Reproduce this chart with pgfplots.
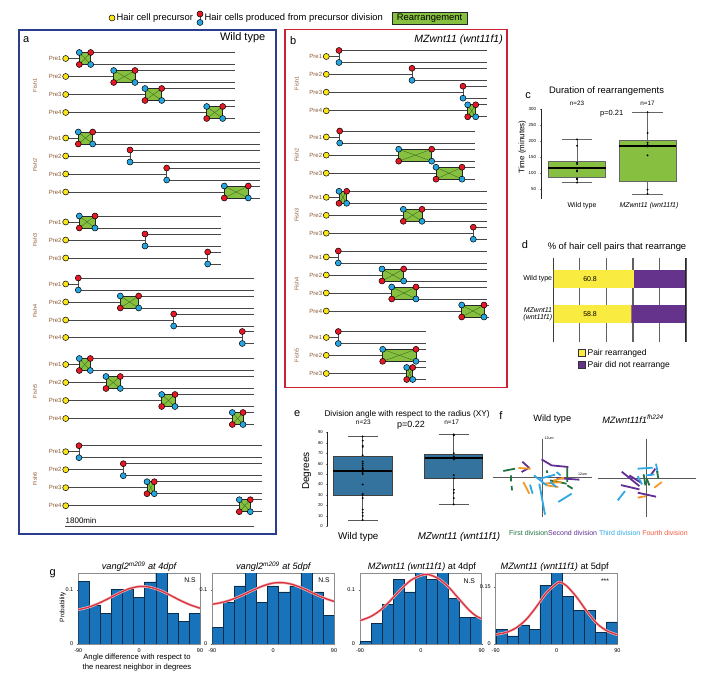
\documentclass[border=0pt]{standalone}
\usepackage{pgfplots}
\pgfplotsset{compat=1.18}
\usepackage{fontspec}
\setmainfont{Liberation Sans}

\definecolor{cA}{rgb}{0.17,0.24,0.56}
\definecolor{cRb}{rgb}{0.80,0.13,0.20}
\definecolor{cR}{rgb}{0.90,0.10,0.15}
\definecolor{cB}{rgb}{0.15,0.65,0.88}
\definecolor{cY}{rgb}{0.98,0.90,0.10}
\definecolor{cG}{rgb}{0.53,0.75,0.25}
\definecolor{cGd}{rgb}{0.20,0.40,0.10}
\definecolor{preC}{rgb}{0.55,0.35,0.20}
\definecolor{cE}{rgb}{0.20,0.45,0.62}
\definecolor{bYel}{rgb}{0.98,0.92,0.25}
\definecolor{bPur}{rgb}{0.40,0.20,0.55}
\definecolor{hB}{rgb}{0.10,0.45,0.73}
\definecolor{hR}{rgb}{0.85,0.20,0.25}
\definecolor{fGr}{rgb}{0.12,0.45,0.25}
\definecolor{fPu}{rgb}{0.38,0.18,0.58}
\definecolor{fBl}{rgb}{0.18,0.66,0.90}
\definecolor{fOr}{rgb}{0.96,0.60,0.15}
\definecolor{fRe}{rgb}{0.96,0.35,0.25}

\newcommand{\fs}[1]{\fontsize{#1}{#1}\selectfont}

\pgfplotsset{
  /pgf/number format/assume math mode=true,
  lin/.style={no marks, line width=0.75pt, color=black!72},
  cell/.style={only marks, mark=*, mark size=3pt, mark options={fill=#1, draw=black, line width=0.5pt}},
  rbox/.style={no marks, fill=cG, draw=black!85, line width=0.8pt},
  xl/.style={no marks, draw=cGd, line width=0.35pt},
  seg/.style={no marks, line width=1.8pt},
  bxax/.style={scale only axis, axis lines=left, x axis line style={draw=none},
    y axis line style={black!85, line width=0.8pt}, axis line style={-},
    xtick=\empty, major tick length=1.5pt,
    tick align=outside, unbounded coords=jump, clip=false},
  hist/.style={scale only axis, width=121.7pt, height=70.7pt, xmin=-90, xmax=90,
    ymin=0, ymax=0.13, axis line style={black!45, line width=0.5pt},
    xtick={-90,0,90}, ytick={0,0.1}, tick pos=left, tick align=outside,
    major tick length=1.5pt, tick style={black!60}, tick label style={font=\fs{5.5}},
    yticklabel style={/pgf/number format/fixed}},
  hbar/.style={ybar interval, fill=hB, draw=black!60!hB, line width=0.4pt},
  halo/.style={no marks, smooth, line width=2.6pt, color=hR!35},
  curve/.style={no marks, smooth, line width=1.3pt, color=hR},
}
\tikzset{
  prel/.style={anchor=east, inner sep=0pt, xshift=-4pt, text=preC, font=\fs{6}},
  fishl/.style={rotate=90, inner sep=0pt, text=preC, font=\fs{5.5}},
}

% division: label, y, x precursor, x division, x end
\newcommand{\dv}[5]{%
  \pgfmathsetmacro\ya{#2-6}\pgfmathsetmacro\yb{#2+6}%
  \addplot[lin] coordinates {(#3,#2) (#4,#2)};
  \addplot[lin] coordinates {(#4,\ya) (#4,\yb)};
  \addplot[lin] coordinates {(#4,\ya) (#5,\ya)};
  \addplot[lin] coordinates {(#4,\yb) (#5,\yb)};
  \addplot[cell=cR] coordinates {(#4,\ya)};
  \addplot[cell=cB] coordinates {(#4,\yb)};
  \addplot[cell=cY] coordinates {(#3,#2)};
  \node[prel] at (axis cs:#3,#2) {Pre#1};
}
% rearrangement: label, y, x precursor, box left, box right, x end
\newcommand{\rr}[6]{%
  \pgfmathsetmacro\ya{#2-6}\pgfmathsetmacro\yb{#2+6}%
  \addplot[lin] coordinates {(#3,#2) (#4,#2)};
  \addplot[lin] coordinates {(#5,\ya) (#6,\ya)};
  \addplot[lin] coordinates {(#5,\yb) (#6,\yb)};
  \addplot[rbox] coordinates {(#4,\ya) (#5,\ya) (#5,\yb) (#4,\yb)} --cycle;
  \addplot[xl] coordinates {(#4,\ya) (#5,\yb)};
  \addplot[xl] coordinates {(#4,\yb) (#5,\ya)};
  \addplot[cell=cB] coordinates {(#4,\ya) (#5,\yb)};
  \addplot[cell=cR] coordinates {(#5,\ya) (#4,\yb)};
  \addplot[cell=cY] coordinates {(#3,#2)};
  \node[prel] at (axis cs:#3,#2) {Pre#1};
}

\begin{document}
\begin{tikzpicture}
\useasboundingbox (0,0) rectangle (709pt,684pt);

% ---------- canvas: panels a, b and free text ----------
\begin{axis}[at={(0pt,0pt)}, anchor=south west, scale only axis,
  width=709pt, height=684pt, xmin=0, xmax=709, ymin=0, ymax=684,
  y dir=reverse, hide axis, clip=false]

% top legend
\addplot[cell=cY] coordinates {(112,18)};
\addplot[lin] coordinates {(200,14) (200,22.5)};
\addplot[cell=cR] coordinates {(200,14)};
\addplot[cell=cB] coordinates {(200,22.5)};
\addplot[rbox] coordinates {(392,12.5) (467,12.5) (467,24) (392,24)} --cycle;
\node[anchor=west, inner sep=0pt, font=\fs{9.4}] at (axis cs:116.5,18.5) {Hair cell precursor};
\node[anchor=west, inner sep=0pt, font=\fs{9.4}] at (axis cs:204.5,18.5) {Hair cells produced from precursor division};
\node[inner sep=0pt, font=\fs{9.4}] at (axis cs:429.5,18.5) {Rearrangement};

% frames
\addplot[no marks, draw=cA, line width=1.5pt] coordinates {(19,30) (276,30) (276,534) (19,534)} --cycle;
\addplot[no marks, draw=cRb, line width=1.5pt] coordinates {(285,29.5) (507,29.5) (507,387.5) (285,387.5)} --cycle;
\node[anchor=west, inner sep=0pt, font=\fs{11}] at (axis cs:23,39.5) {a};
\node[anchor=east, inner sep=0pt, font=\fs{11}] at (axis cs:265.5,38) {Wild type};
\node[anchor=west, inner sep=0pt, font=\fs{11}] at (axis cs:290,40.5) {b};
\node[anchor=east, inner sep=0pt, font=\fs{10.5}\itshape] at (axis cs:503,40) {MZwnt11 (wnt11f1)};

% panel a, wild type
\rr{1}{58.5}{65.7}{79.3}{90.7}{235}
\rr{2}{76.5}{65.7}{113.7}{135}{235}
\rr{3}{94.5}{65.7}{145}{161.7}{235}
\rr{4}{112.5}{65.7}{206.7}{222.7}{235}
\rr{1}{138}{65.7}{78.3}{92.7}{260}
\dv{2}{156}{65.7}{130}{260}
\dv{3}{174}{65.7}{166.7}{260}
\rr{4}{192}{65.7}{224.3}{248.3}{260}
\rr{1}{222}{65.7}{79.3}{95}{221}
\dv{2}{240}{65.7}{145}{221}
\dv{3}{258}{65.7}{207.7}{221}
\dv{1}{284}{65.7}{78.3}{254}
\rr{2}{302}{65.7}{120.3}{138.7}{254}
\dv{3}{320}{65.7}{173.7}{254}
\dv{4}{337.5}{65.7}{242.3}{254}
\rr{1}{364.5}{65.7}{79.3}{90.3}{254}
\rr{2}{382.5}{65.7}{106}{120.3}{254}
\rr{3}{400.5}{65.7}{161.7}{175}{254}
\rr{4}{418.5}{65.7}{232.3}{243}{254}
\dv{1}{451.7}{65.7}{79}{261.7}
\dv{2}{469.7}{65.7}{123.3}{261.7}
\rr{3}{487.7}{65.7}{147}{154.3}{261.7}
\rr{4}{505.7}{65.7}{239.3}{250.3}{261.7}
\node[fishl] at (axis cs:35,85.5) {Fish1};
\node[fishl] at (axis cs:35,165) {Fish2};
\node[fishl] at (axis cs:35,240) {Fish3};
\node[fishl] at (axis cs:35,311) {Fish4};
\node[fishl] at (axis cs:35,391.5) {Fish5};
\node[fishl] at (axis cs:35,478.7) {Fish6};
\addplot[lin, line width=0.9pt] coordinates {(65,526) (254.3,526)};
\node[anchor=south west, inner sep=0pt, font=\fs{8}] at (axis cs:65.5,524) {1800min};

% panel b, MZwnt11
\dv{1}{56.5}{326.3}{339}{487}
\dv{2}{74.3}{326.3}{412}{487}
\dv{3}{92.2}{326.3}{463}{487}
\rr{4}{110.8}{326.3}{467.7}{475.7}{487}
\dv{1}{137}{326.3}{339.7}{475}
\rr{2}{155.2}{326.3}{398.7}{431.7}{475}
\rr{3}{173.2}{326.3}{436}{462}{475}
\rr{1}{197.3}{326.3}{339}{346.7}{487}
\rr{2}{215.3}{326.3}{403.3}{422}{487}
\dv{3}{233.2}{326.3}{473.3}{487}
\dv{1}{257}{326.3}{338.3}{487}
\rr{2}{275}{326.3}{382}{403.7}{487}
\rr{3}{293}{326.3}{391.7}{416}{487}
\rr{4}{311}{326.3}{461.7}{484}{489}
\dv{1}{337.5}{326.3}{338.3}{426}
\rr{2}{355.3}{326.3}{382.7}{416}{426}
\rr{3}{373.5}{326.3}{406.7}{412.7}{426}
\node[fishl] at (axis cs:296.7,83.5) {Fish1};
\node[fishl] at (axis cs:296.7,155) {Fish2};
\node[fishl] at (axis cs:296.7,215) {Fish3};
\node[fishl] at (axis cs:296.7,284) {Fish4};
\node[fishl] at (axis cs:296.7,355.5) {Fish5};

% panel c text
\node[inner sep=0pt, font=\fs{11}] at (axis cs:528,96) {c};
\node[inner sep=0pt, font=\fs{9.4}] at (axis cs:606.5,90.7) {Duration of rearrangements};
\node[inner sep=0pt, font=\fs{6.3}] at (axis cs:577,103.3) {n=23};
\node[inner sep=0pt, font=\fs{6.3}] at (axis cs:647.5,103.3) {n=17};
\node[inner sep=0pt, font=\fs{7.5}] at (axis cs:611.7,114) {p=0.21};
\node[inner sep=0pt, font=\fs{8}, rotate=90] at (axis cs:522.3,147) {Time (minutes)};
\node[inner sep=0pt, font=\fs{7}] at (axis cs:582,205.5) {Wild type};
\node[inner sep=0pt, font=\fs{7}\itshape] at (axis cs:649,205.5) {MZwnt11 (wnt11f1)};

% panel d text
\node[inner sep=0pt, font=\fs{11}] at (axis cs:525,245) {d};
\node[inner sep=0pt, font=\fs{9.4}] at (axis cs:617,246.7) {\% of hair cell pairs that rearrange};

% panel e text
\node[inner sep=0pt, font=\fs{11}] at (axis cs:297.3,414) {e};
\node[anchor=west, inner sep=0pt, font=\fs{8.3}] at (axis cs:324.3,414.3) {Division angle with respect to the radius (XY)};
\node[inner sep=0pt, font=\fs{6.5}] at (axis cs:363.3,422.7) {n=23};
\node[inner sep=0pt, font=\fs{6.5}] at (axis cs:451.7,422.7) {n=17};
\node[inner sep=0pt, font=\fs{9}] at (axis cs:411,425.5) {p=0.22};
\node[inner sep=0pt, font=\fs{10}, rotate=90] at (axis cs:306.7,471) {Degrees};
\node[inner sep=0pt, font=\fs{9.8}] at (axis cs:358.3,536.7) {Wild type};
\node[inner sep=0pt, font=\fs{9.8}\itshape] at (axis cs:459,536.7) {MZwnt11 (wnt11f1)};

% panel f text
\node[inner sep=0pt, font=\fs{11}] at (axis cs:501,416) {f};
\node[inner sep=0pt, font=\fs{9.2}] at (axis cs:552.3,419) {Wild type};
\node[inner sep=0pt, font=\fs{9.2}\itshape] at (axis cs:633,419) {MZwnt11f1\textsuperscript{fh224}};
\node[anchor=west, inner sep=0pt, font=\fs{3.6}] at (axis cs:544.5,438.5) {12um};
\node[anchor=west, inner sep=0pt, font=\fs{3.6}] at (axis cs:578,474.5) {12um};
\node[anchor=west, inner sep=0pt, font=\fs{7}] at (axis cs:509,532.7)
  {\textcolor{fGr}{First division}\textcolor{fPu}{Second division} \textcolor{fBl}{Third division} \textcolor{fRe}{Fourth division}};

% panel g text
\node[inner sep=0pt, font=\fs{11}] at (axis cs:52.7,573.3) {g};
\node[inner sep=0pt, font=\fs{9.2}\itshape] at (axis cs:139,566.7) {vangl2\textsuperscript{m209} at 4dpf};
\node[inner sep=0pt, font=\fs{9.2}\itshape] at (axis cs:273.3,566.7) {vangl2\textsuperscript{m209} at 5dpf};
\node[inner sep=0pt, font=\fs{9.2}] at (axis cs:422,566.7) {\textit{MZwnt11 (wnt11f1)} at 4dpf};
\node[inner sep=0pt, font=\fs{9.2}] at (axis cs:554.7,566.7) {\textit{MZwnt11 (wnt11f1)} at 5dpf};
\node[inner sep=0pt, font=\fs{6.8}] at (axis cs:190,580) {N.S};
\node[inner sep=0pt, font=\fs{6.8}] at (axis cs:324,580) {N.S};
\node[inner sep=0pt, font=\fs{6.8}] at (axis cs:469.3,580.7) {N.S};
\node[inner sep=0pt, font=\fs{6.8}] at (axis cs:605,580.7) {***};
\node[inner sep=0pt, font=\fs{6.5}, rotate=90] at (axis cs:62.7,607) {Probability};
\node[inner sep=0pt, font=\fs{7.7}] at (axis cs:137,658) {Angle difference with respect to};
\node[inner sep=0pt, font=\fs{7.7}] at (axis cs:137,667.5) {the nearest neighbor in degrees};
\end{axis}

% ---------- c: duration of rearrangements ----------
\begin{axis}[bxax, at={(541pt,485.4pt)}, anchor=south west,
  width=141.8pt, height=89.6pt, xmin=0.489, xmax=2.5, ymin=20, ymax=300,
  ytick={50,100,...,300}, tick label style={font=\fs{4.4}}]
% whiskers and caps, then boxes, then medians
\addplot[no marks, black!60, line width=0.9pt] coordinates {
  (1,135) (1,205) (nan,nan) (1,85) (1,70) (nan,nan) (0.785,205) (1.215,205) (nan,nan) (0.785,70) (1.215,70) (nan,nan)
  (2,203) (2,290) (nan,nan) (2,75) (2,33) (nan,nan) (1.785,290) (2.215,290) (nan,nan) (1.785,33) (2.215,33)};
\addplot[no marks, fill=cG, draw=black!60, line width=0.9pt] coordinates {(0.595,85) (1.405,85) (1.405,135) (0.595,135)} --cycle;
\addplot[no marks, fill=cG, draw=black!60, line width=0.9pt] coordinates {(1.595,75) (2.405,75) (2.405,203) (1.595,203)} --cycle;
\addplot[no marks, black, line width=1.8pt] coordinates {(0.595,115) (1.405,115) (nan,nan) (1.595,185) (2.405,185)};
\addplot[only marks, mark=*, mark size=0.7pt, black] coordinates {
  (1,70) (1,80) (1,83) (1,105) (1,108) (1,115) (1,128) (1,132) (1,185) (1,205)
  (2,35) (2,48) (2,155) (2,183) (2,190) (2,195) (2,225) (2,290)};
\end{axis}

% ---------- d: share of pairs that rearrange ----------
\begin{axis}[at={(553.3pt,342.3pt)}, anchor=south west, scale only axis,
  width=132.7pt, height=83.4pt, xmin=0, xmax=100, ymin=-0.589, ymax=1.794,
  y dir=reverse, axis line style={draw=none}, xtick={0,20,...,100}, xticklabels={},
  xmajorgrids, grid style={black!62, line width=1.2pt}, major tick length=0pt,
  ytick={0,1}, yticklabels={Wild type, {\textit{MZwnt11}\\\textit{(wnt11f1)}}},
  yticklabel style={align=right, font=\fs{7}, inner sep=1pt},
  legend image code/.code={\draw[#1, draw=black!80, line width=0.4pt] (0pt,-3.4pt) rectangle (7pt,3.4pt);},
  legend style={at={(0.186,-0.06)}, anchor=north west, draw=none, fill=none,
    font=\fs{8.5}, row sep=0.3pt, inner sep=0pt},
  legend cell align=left]
\addlegendimage{fill=bYel}\addlegendentry{Pair rearranged}
\addlegendimage{fill=bPur}\addlegendentry{Pair did not rearrange}
\addplot[forget plot, xbar, bar width=17.7pt, bar shift=0pt, fill=bPur, draw=none]
  coordinates {(100,0) (100,1)};
\addplot[forget plot, xbar, bar width=17.7pt, bar shift=0pt, fill=bYel, draw=none]
  coordinates {(60.8,0) (58.8,1)};
\addplot[forget plot, no marks, black!85, line width=1.6pt] coordinates {(0,-0.589) (0,1.794)};
\addplot[forget plot, no marks, black!85, line width=1.6pt] coordinates {(100,-0.589) (100,1.794)};
\node[inner sep=0pt, font=\fs{7}] at (axis cs:27.7,0) {60.8};
\node[inner sep=0pt, font=\fs{7}] at (axis cs:27.7,1) {58.8};
\end{axis}

% ---------- e: division angle ----------
\begin{axis}[bxax, at={(327.7pt,157.7pt)}, anchor=south west,
  width=167.1pt, height=94pt, xmin=0.616, xmax=2.45, ymin=0, ymax=90,
  ytick={0,10,...,90}, tick label style={font=\fs{4.2}}]
\addplot[no marks, black!65, line width=0.9pt] coordinates {
  (1,67) (1,86) (nan,nan) (1,30) (1,6) (nan,nan) (0.835,86) (1.165,86) (nan,nan) (0.835,6) (1.165,6) (nan,nan)
  (2,69) (2,88) (nan,nan) (2,46) (2,21) (nan,nan) (1.835,88) (2.165,88) (nan,nan) (1.835,21) (2.165,21)};
\addplot[no marks, fill=cE, draw=black!75, line width=0.9pt] coordinates {(0.678,30) (1.322,30) (1.322,67) (0.678,67)} --cycle;
\addplot[no marks, fill=cE, draw=black!75, line width=0.9pt] coordinates {(1.683,46) (2.317,46) (2.317,69) (1.683,69)} --cycle;
\addplot[no marks, black, line width=2pt] coordinates {(0.678,53) (1.322,53) (nan,nan) (1.683,65) (2.317,65)};
\addplot[only marks, mark=*, mark size=0.7pt, black] coordinates {
  (1,6) (1,10) (1,13) (1,16) (1,27) (1,30) (1,31) (1,40) (1,50) (1,51) (1,53)
  (1,54) (1,55) (1,56) (1,58) (1,60) (1,62) (1,68) (1,76) (1,77) (1,82) (1,86)
  (2,21) (2,27) (2,32) (2,35) (2,46) (2,49) (2,64) (2,66) (2,67) (2,70) (2,87) (2,88)};
\end{axis}

% ---------- f: division orientations ----------
\begin{axis}[at={(492.7pt,167pt)}, anchor=south west, scale only axis,
  width=99pt, height=78.3pt, xmin=-49.6, xmax=49.4, ymin=-39.3, ymax=39,
  axis lines=middle, axis line style={-, black!65, line width=1pt},
  xtick=\empty, ytick=\empty, unbounded coords=jump, clip=false]
\addplot[seg, fGr] coordinates {(-39,6.7) (-27.3,9) (nan,nan) (-31.3,2.3) (-31.3,-3.7)
  (nan,nan) (-30.7,-8.3) (-30.3,-12.7) (nan,nan) (4.3,7.3) (5,4.7) (nan,nan)
  (25,10.7) (25,-4.3) (nan,nan) (7.7,-2.7) (24.3,-6) (nan,nan) (25,-7.7) (30.3,-11)};
\addplot[seg, fPu] coordinates {(-20,16) (-13,9.7) (nan,nan) (-20.7,5.7) (-13,10)
  (nan,nan) (-0.7,18.3) (9.3,12.3) (nan,nan) (9.3,12.3) (26,10.7)
  (nan,nan) (14.3,-0.3) (37,-2)};
\addplot[seg, fOr] coordinates {(-24,9.7) (-11.7,9) (nan,nan) (-19,-4.3) (-13,-16)
  (nan,nan) (1,-6) (19.3,-4.3) (nan,nan) (4.3,-7.7) (16,-9.3) (nan,nan) (11,-3) (21.7,0)};
\addplot[seg, fBl] coordinates {(-3,-6) (2.7,-37) (nan,nan) (-12.3,-7) (-9.7,-16)
  (nan,nan) (-8.3,2.3) (4.3,-7.7) (nan,nan) (16,-24.3) (29.3,-16) (nan,nan)
  (-2.3,-1) (12.7,3) (nan,nan) (14.3,5.7) (18.3,2.3) (nan,nan) (7.7,-4.3) (14.3,-9.3)};
\end{axis}
\begin{axis}[at={(597.7pt,167pt)}, anchor=south west, scale only axis,
  width=98.3pt, height=77.6pt, xmin=-49, xmax=49.3, ymin=-38.6, ymax=39,
  axis lines=middle, axis line style={-, black!65, line width=1pt},
  xtick=\empty, ytick=\empty, unbounded coords=jump, clip=false]
\addplot[seg, fPu] coordinates {(-25,6.7) (-7.3,-7.7) (nan,nan) (-17.3,3) (-5.7,-4.3)
  (nan,nan) (-25.7,-6.7) (-7.3,-11) (nan,nan) (-9,-14.3) (9.3,-18.3) (nan,nan) (3.7,3) (8.7,9.7)};
\addplot[seg, fBl] coordinates {(-29,-22) (-21.7,-12.7) (nan,nan) (-9,9.7) (6,10.7)
  (nan,nan) (9.3,14.7) (11,5.7) (nan,nan) (-9,2.3) (-4.7,-6) (nan,nan) (-0.7,3) (7.7,4)};
\addplot[seg, fGr] coordinates {(-3,4) (-1.3,-7) (nan,nan) (0,-0.3) (2.7,-7)
  (nan,nan) (10.3,7.3) (11.7,-0.3)};
\addplot[seg, fOr] coordinates {(-9,-19.3) (-0.7,-17.7) (nan,nan) (7.7,-9.3) (15,-3.7)};
\end{axis}

% ---------- g: histograms ----------
\begin{axis}[hist, at={(78.3pt,40pt)}, anchor=south west]
\addplot[hbar] coordinates {(-90,0.115) (-73.636,0.071) (-57.273,0.056) (-40.909,0.100)
  (-24.545,0.100) (-8.182,0.086) (8.182,0.114) (24.545,0.140) (40.909,0.056)
  (57.273,0.041) (73.636,0.056) (90,0.056)};
\addplot[halo] coordinates {(-90,0.0630) (-75,0.0677) (-60,0.0748) (-45,0.0838) (-30,0.0934)
  (-15,0.1015) (0,0.1057) (15,0.1048) (30,0.0991) (45,0.0903) (60,0.0806) (75,0.0722) (90,0.0659)};
\addplot[curve] coordinates {(-90,0.0630) (-75,0.0677) (-60,0.0748) (-45,0.0838) (-30,0.0934)
  (-15,0.1015) (0,0.1057) (15,0.1048) (30,0.0991) (45,0.0903) (60,0.0806) (75,0.0722) (90,0.0659)};
\end{axis}
\begin{axis}[hist, at={(212.3pt,40pt)}, anchor=south west]
\addplot[hbar] coordinates {(-90,0.030) (-73.636,0.076) (-57.273,0.107) (-40.909,0.140)
  (-24.545,0.076) (-8.182,0.107) (8.182,0.096) (24.545,0.107) (40.909,0.140)
  (57.273,0.096) (73.636,0.053) (90,0.053)};
\addplot[halo] coordinates {(-90,0.0730) (-75,0.0766) (-60,0.0823) (-45,0.0900) (-30,0.0988)
  (-15,0.1068) (0,0.1120) (15,0.1127) (30,0.1089) (45,0.1016) (60,0.0929) (75,0.0847) (90,0.0783)};
\addplot[curve] coordinates {(-90,0.0730) (-75,0.0766) (-60,0.0823) (-45,0.0900) (-30,0.0988)
  (-15,0.1068) (0,0.1120) (15,0.1127) (30,0.1089) (45,0.1016) (60,0.0929) (75,0.0847) (90,0.0783)};
\end{axis}
\begin{axis}[hist, at={(360pt,40pt)}, anchor=south west]
\addplot[hbar] coordinates {(-90,0.005) (-73.636,0.038) (-57.273,0.073) (-40.909,0.119)
  (-24.545,0.096) (-8.182,0.140) (8.182,0.119) (24.545,0.140) (40.909,0.084)
  (57.273,0.049) (73.636,0.049) (90,0.049)};
\addplot[halo] coordinates {(-90,0.043) (-75,0.050) (-60,0.062) (-45,0.080) (-30,0.100)
  (-15,0.117) (0,0.126) (10,0.128) (25,0.121) (40,0.106) (55,0.085) (70,0.064) (80,0.053) (90,0.046)};
\addplot[curve] coordinates {(-90,0.043) (-75,0.050) (-60,0.062) (-45,0.080) (-30,0.100)
  (-15,0.117) (0,0.126) (10,0.128) (25,0.121) (40,0.106) (55,0.085) (70,0.064) (80,0.053) (90,0.046)};
\end{axis}
\begin{axis}[hist, at={(495.7pt,40pt)}, anchor=south west, ymax=0.185, ytick={0,0.15}]
\addplot[hbar] coordinates {(-90,0.038) (-73.636,0.021) (-57.273,0.050) (-40.909,0.038)
  (-24.545,0.154) (-8.182,0.200) (8.182,0.125) (24.545,0.0875) (40.909,0.0875)
  (57.273,0.031) (73.636,0.058) (90,0.058)};
\addplot[halo] coordinates {(-90,0.025) (-75,0.030) (-60,0.042) (-45,0.064) (-30,0.097)
  (-15,0.134) (0,0.158) (5,0.162) (15,0.152) (30,0.122) (45,0.085) (60,0.053) (75,0.034) (90,0.024)};
\addplot[curve] coordinates {(-90,0.025) (-75,0.030) (-60,0.042) (-45,0.064) (-30,0.097)
  (-15,0.134) (0,0.158) (5,0.162) (15,0.152) (30,0.122) (45,0.085) (60,0.053) (75,0.034) (90,0.024)};
\end{axis}
\end{tikzpicture}
\end{document}
